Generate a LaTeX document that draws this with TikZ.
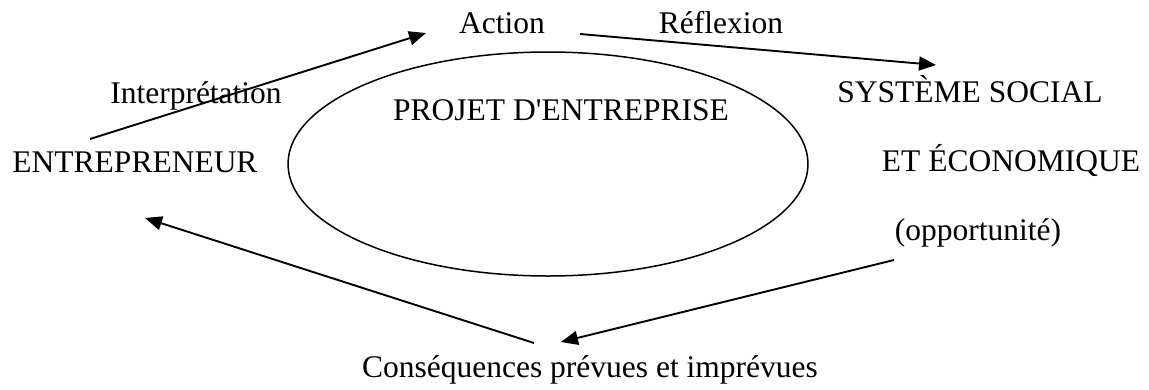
\documentclass[tikz,border=0pt]{standalone}
\usepackage{fontspec}
\setmainfont{Liberation Serif}[Ligatures=TeXOff]
\usetikzlibrary{arrows.meta}
\begin{document}
\begin{tikzpicture}[x=1pt,y=-1pt,
  label/.style={inner sep=0pt,anchor=base,font=\fontsize{31.5}{37}\selectfont},
  flow/.style={line width=1.9pt,-{Triangle[length=17pt,width=14pt]}}]
\useasboundingbox (0,0) rectangle (1149,389);
% central project
\draw[line width=1.5pt] (548,164) ellipse [x radius=260, y radius=112];
\node[label] (projet) at (561,120) {PROJET D'ENTREPRISE};
% actors and labels (placed on their baselines)
\node[label] (entr) at (135,172) {ENTREPRENEUR};
\node[label] (interp) at (196,103) {Interprétation};
\node[label] (action) at (502,33) {Action};
\node[label] (reflex) at (721,33) {Réflexion};
\node[label] (sys1) at (970,102) {SYSTÈME SOCIAL};
\node[label] (sys2) at (1011,171) {ET ÉCONOMIQUE};
\node[label] (opp) at (978,240) {(opportunité)};
\node[label] (cons) at (590,377) {Conséquences prévues et imprévues};
% connector ends
\coordinate (a1s) at (90,139);
\coordinate (a1e) at (426,33);
\coordinate (a2s) at (580,34);
\coordinate (a2e) at (936,65);
\coordinate (a3s) at (894,260);
\coordinate (a3e) at (561,342);
\coordinate (a4s) at (534,343);
\coordinate (a4e) at (145,218);
% cycle
\draw[flow] (a1s) -- (a1e);
\draw[flow] (a2s) -- (a2e);
\draw[flow] (a3s) -- (a3e);
\draw[flow] (a4s) -- (a4e);
\end{tikzpicture}
\end{document}
